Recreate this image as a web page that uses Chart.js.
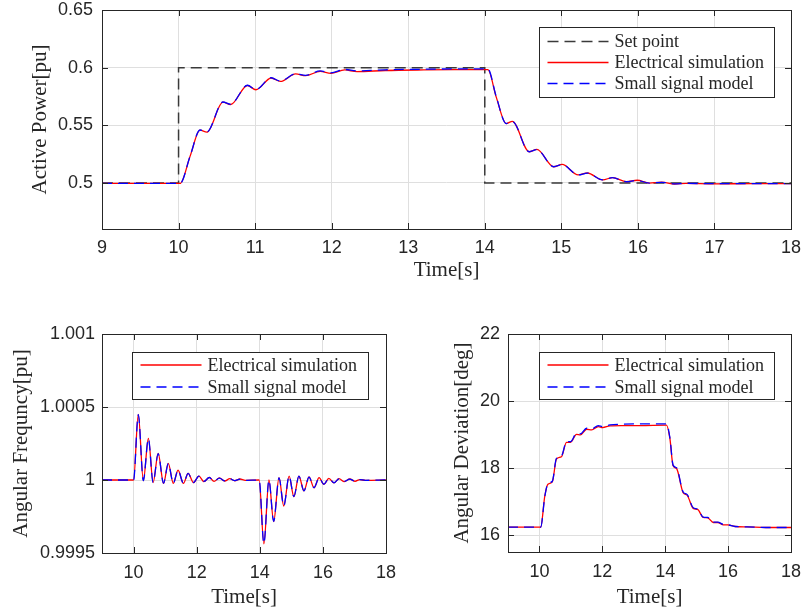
<!DOCTYPE html>
<html>
<head>
<meta charset="utf-8">
<script src="https://cdn.jsdelivr.net/npm/chart.js@4.4.1/dist/chart.umd.min.js"></script>
<style>
  body { margin: 0; background: #fff; }
  canvas { position: absolute; }
</style>
</head>
<body>
<canvas id="powerChart" width="803" height="290" style="left:0px;top:0px"></canvas>
<canvas id="freqChart" width="400" height="292" style="left:0px;top:320px"></canvas>
<canvas id="angleChart" width="403" height="292" style="left:400px;top:320px"></canvas>
<script>
// active power [pu]
const powerTime = [9, 10.02, 10.15, 10.28, 10.37, 10.58, 10.68, 10.90, 11.01, 11.21, 11.33, 11.53, 11.66, 11.85, 11.99, 12.17, 12.33, 12.7, 13.2, 13.6, 14.04, 14.15, 14.28, 14.36, 14.58, 14.68, 14.90, 15.01, 15.22, 15.34, 15.54, 15.67, 15.85, 15.99, 16.15, 16.31, 16.48, 16.63, 17.0, 17.5, 18];
const powerElectrical = [0.4995, 0.4995, 0.523, 0.5457, 0.544, 0.570, 0.568, 0.5845, 0.5808, 0.591, 0.588, 0.5945, 0.593, 0.5968, 0.595, 0.598, 0.5966, 0.5975, 0.598, 0.5982, 0.5982, 0.5744, 0.5515, 0.5534, 0.527, 0.529, 0.514, 0.516, 0.5069, 0.5086, 0.5026, 0.5046, 0.501, 0.5023, 0.4998, 0.5006, 0.4990, 0.4996, 0.4992, 0.4993, 0.4993];
const powerSmallSignal = [0.4995, 0.4995, 0.523, 0.5459, 0.5442, 0.5702, 0.5682, 0.5847, 0.5810, 0.5912, 0.5883, 0.5947, 0.5933, 0.5971, 0.5954, 0.5984, 0.5971, 0.5981, 0.5986, 0.5989, 0.5989, 0.5748, 0.5515, 0.5533, 0.527, 0.5289, 0.514, 0.5159, 0.5069, 0.5085, 0.5026, 0.5045, 0.501, 0.5022, 0.4998, 0.5005, 0.4991, 0.4996, 0.4993, 0.4994, 0.4994];
const setPointTime = [9, 10, 10, 14, 14, 18];
const setPointValue = [0.5, 0.5, 0.6, 0.6, 0.5, 0.5];

// angular frequency [pu]
const freqTime = [9, 10.0, 10.15, 10.31, 10.47, 10.62, 10.78, 10.95, 11.10, 11.26, 11.41, 11.58, 11.73, 11.90, 12.07, 12.23, 12.40, 12.55, 12.72, 12.89, 13.05, 13.21, 13.37, 13.54, 13.98, 14.13, 14.29, 14.44, 14.61, 14.76, 14.93, 15.08, 15.24, 15.40, 15.56, 15.72, 15.88, 16.03, 16.19, 16.35, 16.51, 16.68, 16.85, 17.02, 17.17, 17.35, 18];
const freqElectrical = [1, 1, 1.00045, 0.999995, 1.000285, 0.999982, 1.000183, 0.999977, 1.000114, 0.999977, 1.000068, 0.999977, 1.000046, 0.999982, 1.000027, 0.999989, 1.000018, 0.999991, 1.000014, 0.999993, 1.000009, 0.999995, 1.000007, 0.999998, 1, 0.999562, 1.0, 0.999715, 1.000016, 0.999822, 1.000027, 0.999886, 1.000027, 0.999925, 1.000021, 0.999947, 1.000016, 0.99997, 1.000011, 0.99998, 1.000009, 0.999989, 1.000007, 0.999991, 1.000003, 0.999997, 1];
const freqSmallSignal = [1, 1, 1.000448, 0.999996, 1.000283, 0.999983, 1.000181, 0.999978, 1.000112, 0.999978, 1.000067, 0.999978, 1.000045, 0.999983, 1.000026, 0.99999, 1.000017, 0.999992, 1.000013, 0.999994, 1.000008, 0.999996, 1.000006, 0.999998, 1, 0.999565, 0.999999, 0.999717, 1.000015, 0.999823, 1.000026, 0.999887, 1.000026, 0.999926, 1.00002, 0.999948, 1.000015, 0.999971, 1.00001, 0.999981, 1.000008, 0.99999, 1.000006, 0.999992, 1.000003, 0.999998, 1];

// angular deviation [deg]
const angleTime = [9, 10.04, 10.17, 10.27, 10.41, 10.54, 10.70, 10.86, 10.99, 11.18, 11.30, 11.50, 11.66, 11.87, 12.01, 12.24, 12.6, 13.2, 14.04, 14.15, 14.25, 14.36, 14.57, 14.70, 14.89, 15.03, 15.21, 15.35, 15.53, 15.67, 15.85, 15.99, 16.22, 16.6, 17.2, 18];
const angleElectrical = [16.24, 16.24, 17.17, 17.52, 17.59, 18.27, 18.34, 18.77, 18.77, 19.01, 18.99, 19.16, 19.14, 19.24, 19.21, 19.26, 19.27, 19.27, 19.28, 18.87, 18.07, 17.99, 17.27, 17.19, 16.80, 16.77, 16.53, 16.52, 16.38, 16.38, 16.31, 16.31, 16.26, 16.25, 16.23, 16.23];
const angleSmallSignal = [16.24, 16.24, 17.15, 17.54, 17.61, 18.29, 18.36, 18.79, 18.79, 19.04, 19.02, 19.19, 19.17, 19.27, 19.24, 19.29, 19.31, 19.32, 19.32, 18.90, 18.09, 18.01, 17.29, 17.21, 16.82, 16.78, 16.54, 16.53, 16.39, 16.39, 16.32, 16.31, 16.26, 16.25, 16.23, 16.23];

// tick labels
const powerXTicks = [9, 10, 11, 12, 13, 14, 15, 16, 17, 18];
const lowerXTicks = [10, 12, 14, 16, 18];
const powerYTicks = [0.5, 0.55, 0.6, 0.65];
const freqYTicks = [0.9995, 1, 1.0005, 1.001];
const angleYTicks = [16, 18, 20, 22];

const tickFont = { family: '"Liberation Sans", Arial, sans-serif', size: 18 };
const titleFont = { family: '"Liberation Serif", "Times New Roman", serif', size: 21 };
const axisColor = '#262626';

function toPoints(xs, ys) {
    return xs.map((x, i) => ({ x: x, y: ys[i] }));
}

// box round the axes with inward ticks, like matlab
const matlabFrame = {
    id: 'matlabFrame',
    afterDatasetsDraw(chart) {
        const { ctx, chartArea: a, scales } = chart;
        ctx.save();
        ctx.strokeStyle = axisColor;
        ctx.lineWidth = 1;
        ctx.beginPath();
        scales.x.ticks.forEach(t => {
            const px = Math.round(scales.x.getPixelForValue(t.value)) + 0.5;
            ctx.moveTo(px, a.bottom); ctx.lineTo(px, a.bottom - 6);
            ctx.moveTo(px, a.top); ctx.lineTo(px, a.top + 6);
        });
        scales.y.ticks.forEach(t => {
            const py = Math.round(scales.y.getPixelForValue(t.value)) + 0.5;
            ctx.moveTo(a.left, py); ctx.lineTo(a.left + 6, py);
            ctx.moveTo(a.right, py); ctx.lineTo(a.right - 6, py);
        });
        ctx.stroke();
        ctx.strokeRect(Math.round(a.left) + 0.5, Math.round(a.top) + 0.5,
            Math.round(a.right) - Math.round(a.left), Math.round(a.bottom) - Math.round(a.top));
        ctx.restore();
    }
};

// legend drawn inside the axes
const boxLegend = {
    id: 'boxLegend',
    afterDraw(chart, args, opts) {
        const { ctx, chartArea: a } = chart;
        const items = chart.data.datasets;
        const w = opts.width, rowH = opts.rowHeight;
        const h = items.length * rowH + 2 * opts.pad;
        const x = Math.round(opts.side === 'right' ? a.right - opts.dx - w : a.left + opts.dx) + 0.5;
        const y = Math.round(a.top + opts.dy) + 0.5;
        ctx.save();
        ctx.fillStyle = '#fff';
        ctx.fillRect(x, y, w, h);
        ctx.strokeStyle = axisColor;
        ctx.lineWidth = 1;
        ctx.strokeRect(x, y, w, h);
        ctx.font = '18px "Liberation Serif", "Times New Roman", serif';
        ctx.textBaseline = 'middle';
        items.forEach((d, i) => {
            const cy = y + opts.pad + rowH * (i + 0.5);
            ctx.strokeStyle = d.borderColor;
            ctx.lineWidth = d.borderWidth;
            ctx.setLineDash(d.borderDash || []);
            ctx.beginPath();
            ctx.moveTo(x + 8, cy);
            ctx.lineTo(x + 69, cy);
            ctx.stroke();
            ctx.setLineDash([]);
            ctx.fillStyle = axisColor;
            ctx.fillText(d.label, x + 75, cy + 1);
        });
        ctx.restore();
    }
};

// stop chart.js from growing the margins for the tick labels
function clearPadding(scale) {
    scale.paddingTop = 0;
    scale.paddingBottom = 0;
    scale.paddingLeft = 0;
    scale.paddingRight = 0;
}

function makeChart(id, s) {
    const ctx = document.getElementById(id).getContext('2d');
    return new Chart(ctx, {
        type: 'line',
        data: { datasets: s.datasets },
        options: {
            responsive: false,
            animation: false,
            layout: { padding: s.padding },
            elements: { point: { radius: 0 } },
            scales: {
                x: {
                    type: 'linear', min: 9, max: 18,
                    afterBuildTicks: scale => { scale.ticks = s.xTicks.map(v => ({ value: v })); },
                    afterFit: scale => { scale.height = s.xAxisHeight; clearPadding(scale); },
                    ticks: { font: tickFont, color: axisColor, padding: s.xTickPad, maxRotation: 0, autoSkip: false, callback: v => String(v) },
                    grid: { color: '#dfdfdf', drawTicks: false },
                    border: { display: false },
                    title: { display: true, text: 'Time[s]', font: titleFont, color: axisColor, padding: { top: 0, bottom: s.xTitlePad } }
                },
                y: {
                    type: 'linear', min: s.yMin, max: s.yMax,
                    afterBuildTicks: scale => { scale.ticks = s.yTicks.map(v => ({ value: v })); },
                    afterFit: scale => { scale.width = s.yAxisWidth; clearPadding(scale); },
                    ticks: { font: tickFont, color: axisColor, padding: s.yTickPad, autoSkip: false, callback: v => String(v) },
                    grid: { color: '#dfdfdf', drawTicks: false },
                    border: { display: false },
                    title: { display: true, text: s.yTitle, font: titleFont, color: axisColor, padding: { top: s.yTitlePad, bottom: 0 } }
                }
            },
            plugins: {
                legend: { display: false },
                tooltip: { enabled: false },
                boxLegend: s.legend
            }
        },
        plugins: [matlabFrame, boxLegend]
    });
}

const electricalStyle = { borderColor: '#ff0000', borderWidth: 1.3, cubicInterpolationMode: 'monotone', order: 1 };
const smallSignalStyle = { borderColor: '#0000ff', borderWidth: 1.3, borderDash: [10, 6], cubicInterpolationMode: 'monotone', order: 0 };

makeChart('powerChart', {
    datasets: [
        { label: 'Set point', data: toPoints(setPointTime, setPointValue), borderColor: '#3a3a3a', borderWidth: 1.5, borderDash: [11, 6], tension: 0, order: 2 },
        Object.assign({ label: 'Electrical simulation', data: toPoints(powerTime, powerElectrical) }, electricalStyle),
        Object.assign({ label: 'Small signal model', data: toPoints(powerTime, powerSmallSignal) }, smallSignalStyle)
    ],
    padding: { top: 10, right: 12, left: 0, bottom: 0 },
    xTicks: powerXTicks, yTicks: powerYTicks, yMin: 0.46, yMax: 0.65,
    yTitle: 'Active Power[pu]',
    yAxisWidth: 102, xAxisHeight: 61, xTickPad: 8, yTickPad: 9, xTitlePad: 7, yTitlePad: 28,
    legend: { side: 'right', dx: 17, dy: 17, width: 235, rowHeight: 21, pad: 3.5 }
});

makeChart('freqChart', {
    datasets: [
        Object.assign({ label: 'Electrical simulation', data: toPoints(freqTime, freqElectrical) }, electricalStyle),
        Object.assign({ label: 'Small signal model', data: toPoints(freqTime, freqSmallSignal) }, smallSignalStyle)
    ],
    padding: { top: 14, right: 14, left: 0, bottom: 0 },
    xTicks: lowerXTicks, yTicks: freqYTicks, yMin: 0.9995, yMax: 1.001,
    yTitle: 'Angular Frequncy[pu]',
    yAxisWidth: 102, xAxisHeight: 59, xTickPad: 9, yTickPad: 7, xTitlePad: 2, yTitlePad: 9,
    legend: { side: 'left', dx: 30, dy: 18, width: 236, rowHeight: 22, pad: 1.5 }
});

makeChart('angleChart', {
    datasets: [
        Object.assign({ label: 'Electrical simulation', data: toPoints(angleTime, angleElectrical) }, electricalStyle),
        Object.assign({ label: 'Small signal model', data: toPoints(angleTime, angleSmallSignal) }, smallSignalStyle)
    ],
    padding: { top: 14, right: 12, left: 0, bottom: 0 },
    xTicks: lowerXTicks, yTicks: angleYTicks, yMin: 15.5, yMax: 22,
    yTitle: 'Angular Deviation[deg]',
    yAxisWidth: 108, xAxisHeight: 60, xTickPad: 9, yTickPad: 8, xTitlePad: 2, yTitlePad: 50,
    legend: { side: 'left', dx: 31, dy: 18, width: 235, rowHeight: 22, pad: 1.5 }
});
</script>
</body>
</html>
